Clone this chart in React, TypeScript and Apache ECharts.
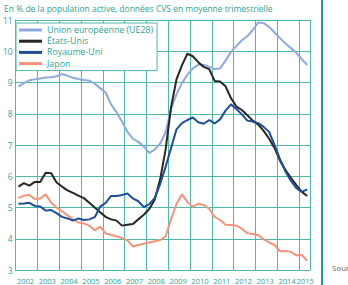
import React, { useEffect, useRef } from "react";
import * as echarts from "echarts";

// Quarterly unemployment rates, 2002 T1 – 2015 T2 (% of labour force, s.a.)
const years = [2002, 2003, 2004, 2005, 2006, 2007, 2008, 2009, 2010, 2011, 2012, 2013, 2014, 2015];

const ue28 = [
  8.87, 8.98, 9.07, 9.1, 9.13, 9.16, 9.17, 9.2, 9.27, 9.22, 9.15, 9.11, 9.08, 9.06, 8.96, 8.82,
  8.68, 8.3, 8.05, 7.75, 7.42, 7.2, 7.1, 6.95, 6.75, 6.85, 7.05, 7.4, 8.15, 8.62, 8.98, 9.25,
  9.45, 9.57, 9.57, 9.5, 9.43, 9.45, 9.7, 9.98, 10.17, 10.35, 10.48, 10.68, 10.92, 10.9, 10.78, 10.6,
  10.42, 10.25, 10.1, 9.95, 9.75, 9.56,
];

const etatsUnis = [
  5.67, 5.78, 5.7, 5.82, 5.82, 6.11, 6.1, 5.8, 5.67, 5.55, 5.47, 5.38, 5.3, 5.15, 5.0, 4.85,
  4.7, 4.62, 4.58, 4.42, 4.45, 4.47, 4.62, 4.77, 4.95, 5.25, 5.9, 6.85, 8.2, 9.1, 9.55, 9.92,
  9.84, 9.65, 9.5, 9.43, 9.05, 9.03, 8.88, 8.5, 8.23, 8.12, 7.95, 7.78, 7.65, 7.45, 7.2, 6.9,
  6.5, 6.2, 5.95, 5.72, 5.5, 5.37,
];

const royaumeUni = [
  5.12, 5.13, 5.15, 5.05, 5.03, 4.9, 4.92, 4.82, 4.7, 4.65, 4.58, 4.65, 4.6, 4.62, 4.69, 5.03,
  5.15, 5.37, 5.37, 5.4, 5.45, 5.29, 5.2, 5.01, 5.11, 5.3, 5.75, 6.3, 6.9, 7.5, 7.7, 7.8,
  7.88, 7.73, 7.68, 7.8, 7.69, 7.82, 8.1, 8.3, 8.15, 7.98, 7.78, 7.75, 7.7, 7.58, 7.42, 7.0,
  6.55, 6.15, 5.85, 5.62, 5.5, 5.58,
];

const japon = [
  5.3, 5.38, 5.4, 5.27, 5.29, 5.42, 5.15, 5.0, 4.88, 4.75, 4.63, 4.52, 4.49, 4.42, 4.27, 4.39,
  4.17, 4.12, 4.08, 4.02, 3.95, 3.75, 3.8, 3.84, 3.88, 3.92, 3.96, 4.07, 4.62, 5.12, 5.42, 5.18,
  5.02, 5.12, 5.08, 4.96, 4.7, 4.6, 4.45, 4.44, 4.42, 4.32, 4.18, 4.15, 4.12, 3.98, 3.88, 3.8,
  3.6, 3.61, 3.58, 3.47, 3.48, 3.3,
];

const seriesNames = ["Union européenne (UE28)", "États-Unis", "Royaume-Uni", "Japon"];

// Mid-quarter position of each observation on a continuous year scale
const quarterPos = ue28.map((_, i) => years[0] + Math.floor(i / 4) + ((i % 4) + 0.5) / 4);
const toPairs = (vals: number[]) => vals.map((v, i) => [quarterPos[i], v]);

const TEAL = "#4fb8a8";
const TEXT = "#2fa393";
const FONT = "'Open Sans', 'Noto Sans', sans-serif";

export default function App() {
  const ref = useRef<HTMLDivElement>(null);

  useEffect(() => {
    if (!ref.current) return;
    const chart = echarts.init(ref.current, null, { renderer: "svg" });

    const line = (name: string, data: number[], color: string, z: number) => ({
      name,
      type: "line",
      data: toPairs(data),
      showSymbol: false,
      symbol: "none",
      lineStyle: { color, width: 2 },
      itemStyle: { color },
      z,
    });

    chart.setOption({
      animation: false,
      textStyle: { fontFamily: FONT },
      title: {
        text: "En % de la population active, données CVS en moyenne trimestrielle",
        left: -1,
        top: -1,
        textStyle: { fontSize: 8.5, fontWeight: "normal", color: TEXT, fontFamily: FONT },
      },
      grid: { left: 11, top: 20, right: 38, bottom: 15, containLabel: false },
      legend: {
        orient: "vertical",
        left: 16,
        top: 23,
        data: seriesNames,
        icon: "rect",
        itemWidth: 23,
        itemHeight: 3,
        itemGap: 1.2,
        padding: [2, 4, 2, 3],
        backgroundColor: "#ffffff",
        borderColor: TEAL,
        borderWidth: 1,
        borderRadius: 0,
        textStyle: { fontSize: 8.8, lineHeight: 10, color: TEXT, fontFamily: FONT },
      },
      xAxis: {
        type: "value",
        min: 2002,
        max: 2015.5,
        interval: 1,
        axisLine: { show: true, lineStyle: { color: TEAL, width: 1 } },
        axisTick: { show: false },
        splitLine: { show: true, lineStyle: { color: TEAL, width: 1 } },
        axisLabel: {
          customValues: [...years.slice(0, -1).map((y) => y + 0.45), 2015.28],
          formatter: (v: number) => String(Math.floor(v)),
          fontSize: 7.5,
          color: TEXT,
          margin: 7,
          fontFamily: FONT,
        },
      },
      yAxis: {
        type: "value",
        min: 3,
        max: 11,
        interval: 1,
        axisLine: { show: true, lineStyle: { color: TEAL, width: 1 } },
        axisTick: { show: false },
        splitLine: { show: true, lineStyle: { color: TEAL, width: 1 } },
        axisLabel: { fontSize: 8.5, color: TEXT, margin: 3, fontFamily: FONT },
      },
      series: [
        line(seriesNames[0], ue28, "#8eaadc", 2),
        line(seriesNames[3], japon, "#f4937a", 3),
        line(seriesNames[1], etatsUnis, "#262626", 4),
        line(seriesNames[2], royaumeUni, "#1d4f96", 5),
      ],
      graphic: [
        {
          type: "line",
          shape: { x1: 322, y1: 0, x2: 322, y2: 285 },
          style: { stroke: "#1e9e8e", lineWidth: 2 },
          silent: true,
        },
        {
          type: "text",
          x: 332,
          y: 263,
          style: { text: "Sources", fontSize: 8, fill: "#666666", fontFamily: FONT },
          silent: true,
        },
      ],
    });

    return () => chart.dispose();
  }, []);

  return (
    <div
      ref={ref}
      style={{ position: "fixed", left: 0, top: 0, width: 348, height: 285, background: "#ffffff" }}
    />
  );
}
